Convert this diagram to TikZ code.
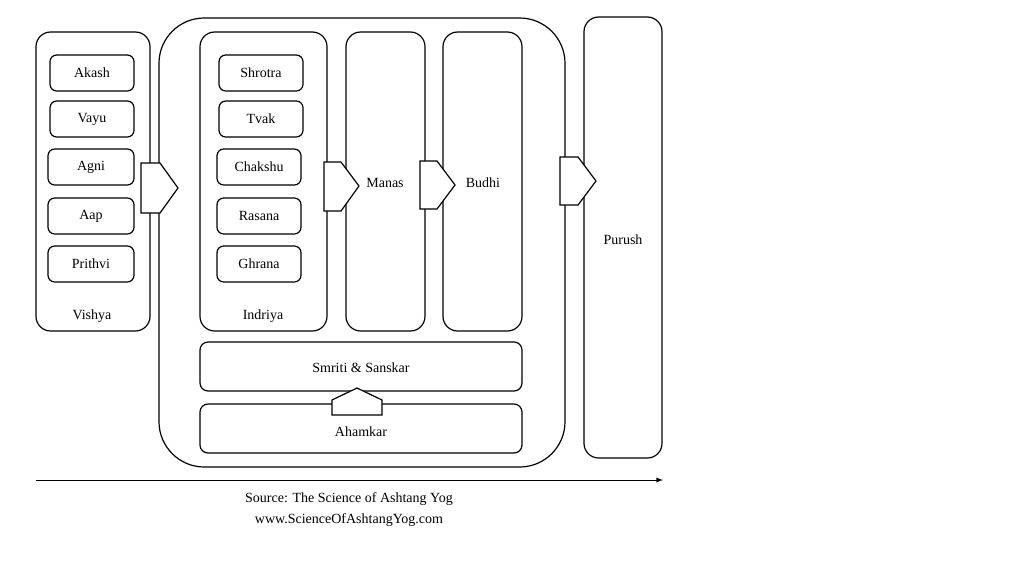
\documentclass[tikz,border=0pt]{standalone}
\usepackage{fontspec}
\setmainfont{Liberation Serif}
\begin{document}
\begin{tikzpicture}[x=0.75pt,y=-0.75pt,
  box/.style={draw,rounded corners=5pt,line width=0.9pt},
  col/.style={draw,rounded corners=11pt,line width=0.9pt},
  pent/.style={draw,fill=white,line width=0.9pt},
  lbl/.style={font=\fontsize{10.5}{12}\selectfont}]
\useasboundingbox (0,0) rectangle (1024,576);
% Vishya
\draw[col] (36,32) rectangle (150,331);
\node[lbl] (vishya) at (92,316) {Vishya};
\foreach \n/\t/\a/\b/\y in {akash/Akash/50/134/55,vayu/Vayu/50/134/101,agni/Agni/48/134/149,aap/Aap/48/134/198,prithvi/Prithvi/48/134/246}{
  \draw[box] (\a,\y) rectangle (\b,\y+36);
  \node[lbl] (\n) at ({(\a+\b)/2},\y+18) {\t};
}
% big container
\draw[draw,line width=0.9pt,rounded corners=34pt] (159,18) rectangle (565,467);
\draw[col] (200,32) rectangle (327,331);
\node[lbl] (indriya) at (263,316) {Indriya};
\foreach \n/\t/\a/\b/\y in {shrotra/Shrotra/219/303/55,tvak/Tvak/219/303/101,chakshu/Chakshu/217/301/149,rasana/Rasana/217/301/198,ghrana/Ghrana/217/301/246}{
  \draw[box] (\a,\y) rectangle (\b,\y+36);
  \node[lbl] (\n) at ({(\a+\b)/2},\y+18) {\t};
}
\draw[col] (346,32) rectangle (425,331);
\node[lbl] (manas) at (385,183) {Manas};
\draw[col] (443,32) rectangle (522,331);
\node[lbl] (budhi) at (483,183) {Budhi};
\draw[col] (584,17) rectangle (662,458);
\node[lbl] (purush) at (623,240) {Purush};
\draw[box,rounded corners=6pt] (200,342) rectangle (522,391);
\node[lbl] (smriti) at (361,368) {Smriti \& Sanskar};
\draw[box,rounded corners=6pt] (200,404) rectangle (522,453);
\node[lbl] (ahamkar) at (361,432) {Ahamkar};
% pentagon arrows
\draw[pent] (141,163) -- (160,163) -- (178,188) -- (160,213) -- (141,213) -- cycle;
\draw[pent] (324,162) -- (341,162) -- (359,186) -- (341,211) -- (324,211) -- cycle;
\draw[pent] (420,161) -- (437,161) -- (455,185) -- (437,209) -- (420,209) -- cycle;
\draw[pent] (560,157) -- (578,157) -- (596,181) -- (578,205) -- (560,205) -- cycle;
\draw[pent] (332,415) -- (332,400) -- (357,388) -- (382,400) -- (382,415) -- cycle;
% axis
\coordinate (a0) at (36,480);
\coordinate (a1) at (663,480);
\draw[line width=0.7pt,-latex] (a0) -- (a1);
\node[lbl] (src) at (349,499) {Source: The Science of Ashtang Yog};
\node[lbl] (web) at (349,520) {www.ScienceOfAshtangYog.com};
\end{tikzpicture}
\end{document}
